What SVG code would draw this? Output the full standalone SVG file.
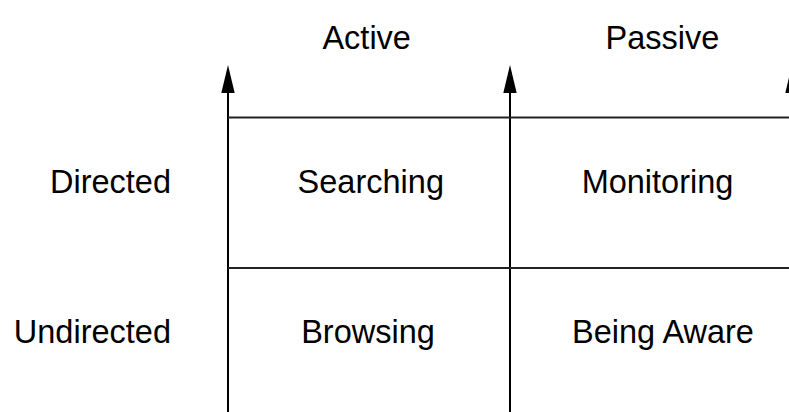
<svg xmlns="http://www.w3.org/2000/svg" width="789" height="412" viewBox="0 0 789 412">
  <style>
    .lbl { font-family: "Liberation Sans", Arial, sans-serif; font-size: 32.5px; fill: #000; }
    .mid { text-anchor: middle; }
    .end { text-anchor: end; }
    .axis { stroke: #000; stroke-width: 2; fill: none; }
    .rule { stroke: #222; stroke-width: 2; fill: none; }
  </style>
  <defs>
    <marker id="head" markerUnits="userSpaceOnUse" markerWidth="30" markerHeight="16" refX="0" refY="0" orient="auto" overflow="visible">
      <path d="M0,-6.7 L28,0 L0,6.7 Z" fill="#000"/>
    </marker>
  </defs>

  <rect width="789" height="412" fill="#fff"/>

  <!-- axes and grid rules -->
  <g id="connectors">
    <line class="axis" x1="228" y1="412" x2="228" y2="93" marker-end="url(#head)"/>
    <line class="axis" x1="510" y1="412" x2="510" y2="93" marker-end="url(#head)"/>
    <line class="axis" x1="792" y1="412" x2="792" y2="93" marker-end="url(#head)"/>
    <line class="rule" x1="228" y1="117.5" x2="789" y2="117.5"/>
    <line class="rule" x1="228" y1="268" x2="789" y2="268"/>
  </g>

  <!-- column headings -->
  <g id="col-active"><text class="lbl mid" x="366.7" y="49.3">Active</text></g>
  <g id="col-passive"><text class="lbl mid" x="662.5" y="49.3">Passive</text></g>

  <!-- row headings -->
  <g id="row-directed"><text class="lbl end" x="171" y="193.3">Directed</text></g>
  <g id="row-undirected"><text class="lbl end" x="171" y="343">Undirected</text></g>

  <!-- cells -->
  <g id="cell-searching"><text class="lbl mid" x="370.8" y="193.3">Searching</text></g>
  <g id="cell-monitoring"><text class="lbl mid" x="657.5" y="193.3">Monitoring</text></g>
  <g id="cell-browsing"><text class="lbl mid" x="368" y="343">Browsing</text></g>
  <g id="cell-being-aware"><text class="lbl mid" x="663" y="343">Being Aware</text></g>
</svg>
